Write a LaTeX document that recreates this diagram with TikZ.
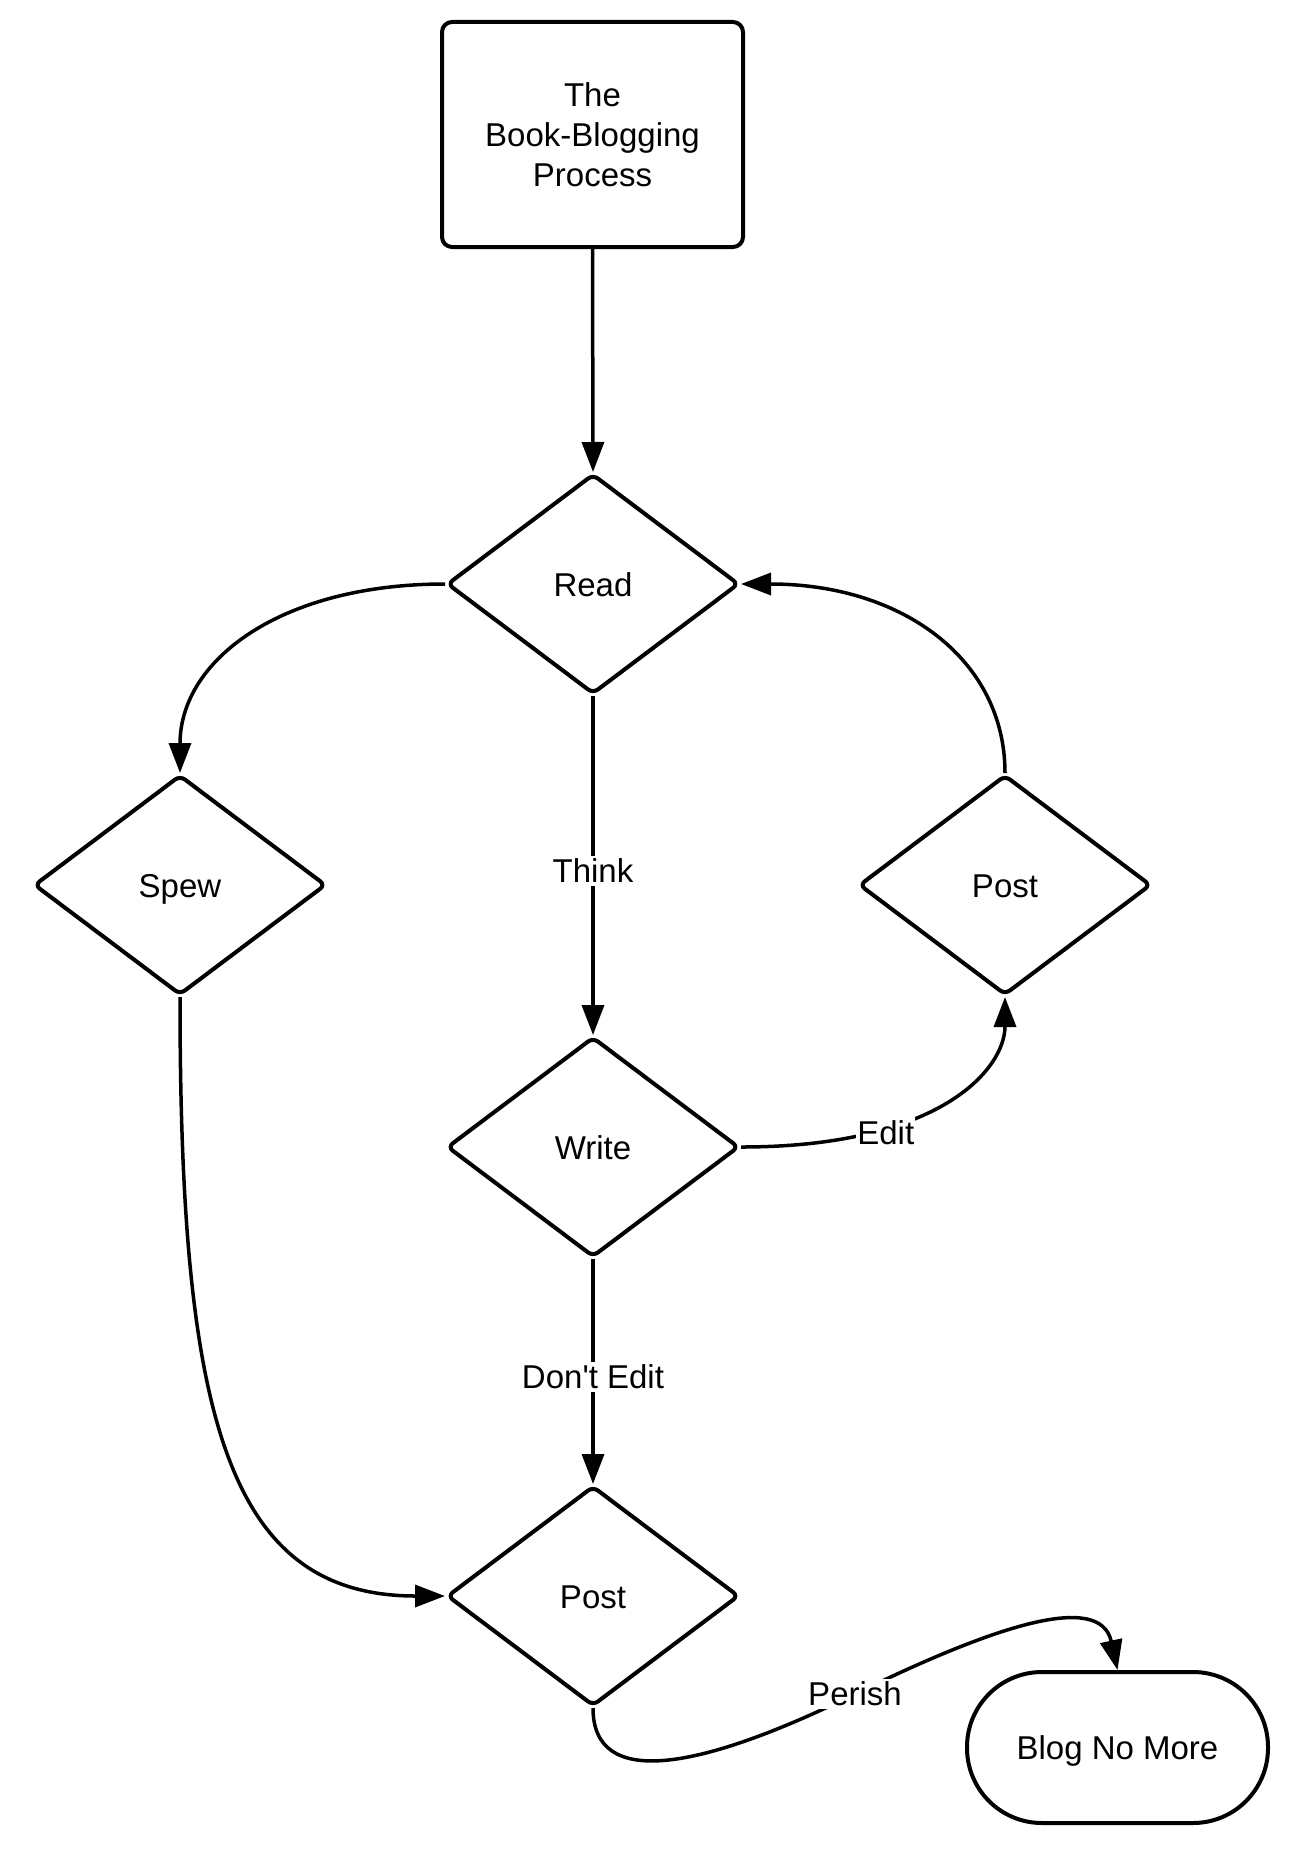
\documentclass[tikz,border=0pt]{standalone}
\usepackage{fontspec}
\setmainfont{Liberation Sans}[Ligatures=TeXOff]
\usetikzlibrary{shapes.geometric,arrows.meta}
\begin{document}
\begin{tikzpicture}[x=1pt,y=-1pt,line join=round,
  txt/.style={font=\fontsize{33}{40}\selectfont},
  onetext/.style={text height=24pt,text depth=0pt},
  decision/.style={diamond,draw,line width=4pt,minimum width=292pt,minimum height=220pt,inner sep=0pt,rounded corners=6pt,txt,onetext},
  startbox/.style={rectangle,draw,line width=4pt,minimum width=301pt,minimum height=225pt,rounded corners=10pt,align=center,txt},
  endbox/.style={rectangle,draw,line width=4pt,minimum width=301pt,minimum height=151pt,rounded corners=75pt,txt,onetext},
  flow/.style={line width=3.5pt,-{Triangle[length=30pt,width=22pt]}},
  lbl/.style={fill=white,inner xsep=1pt,inner ysep=3pt,txt}]
\fill[white] (0,0) rectangle (1295,1852);
\useasboundingbox (0,0) rectangle (1295,1852);

\node[startbox] (title) at (592.5,134.5) {The\\Book-Blogging\\Process};
\node[decision] (read) at (593,584) {Read};
\node[decision] (spew) at (180,885) {Spew};
\node[decision] (postr) at (1005,885) {Post};
\node[decision] (write) at (593,1147) {Write};
\node[decision] (postb) at (593,1596) {Post};
\node[endbox] (blog) at (1117.5,1747.5) {Blog No More};

\draw[flow] (title.south) -- (read.north);
\draw[flow] (read.west) .. controls (281,584) and (180,660) .. (spew.north);
\draw[flow] (postr.north) .. controls (1005,660) and (903,584) .. (read.east);
\draw[flow] (read.south) -- node[lbl,pos=0.516]{Think} (write.north);
\draw[flow] (write.east) .. controls (940,1147) and (1005,1069) .. (postr.south) node[lbl,pos=0.30,yshift=-4pt]{Edit};
\draw[flow] (write.south) -- node[lbl,pos=0.524]{Don't Edit} (postb.north);
\draw[flow] (spew.south) .. controls (180,1414) and (226,1596) .. (postb.west);
\draw[flow] (postb.south) .. controls (593,1790) and (700,1770) .. (855,1694) node[lbl]{Perish} .. controls (990,1628) and (1100,1590) .. (blog.north);
\end{tikzpicture}
\end{document}
